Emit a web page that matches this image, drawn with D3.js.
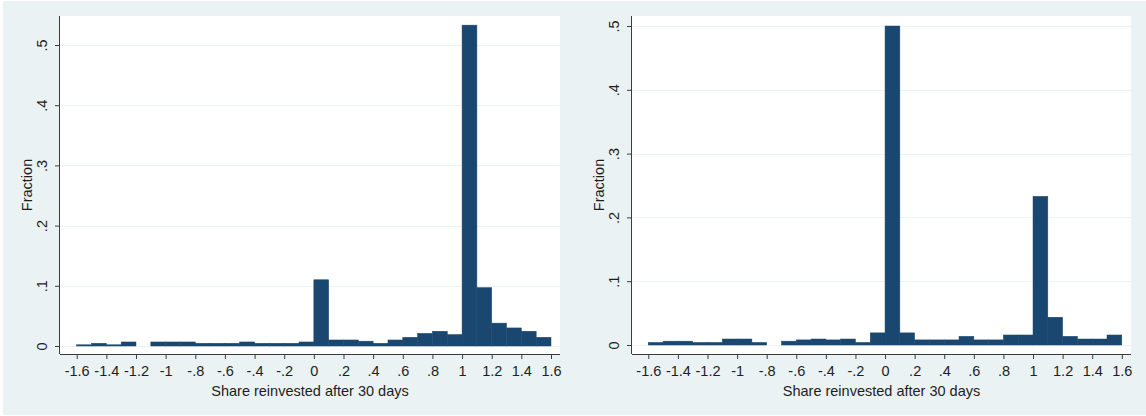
<!DOCTYPE html>
<html>
<head>
<meta charset="utf-8">
<script src="https://cdn.jsdelivr.net/npm/d3@7"></script>
<style>
  body { margin: 0; background: #fff; }
  svg text { font-family: "Liberation Sans", Arial, sans-serif; fill: #1e1e1e; }
</style>
</head>
<body>
<svg id="chart" width="1146" height="416"></svg>
<script>
// histogram bins, width 0.1, from -1.6 to 1.6
const binStarts = d3.range(32).map(i => Math.round((-1.6 + i * 0.1) * 10) / 10);

const leftFractions = [
  0.002, 0.0045, 0.002, 0.0067, 0, 0.0067, 0.0067, 0.0067,
  0.0045, 0.0045, 0.0045, 0.0067, 0.0045, 0.0045, 0.0045, 0.0067,
  0.110, 0.010, 0.010, 0.008, 0.0045, 0.010, 0.0145, 0.021,
  0.0245, 0.019, 0.533, 0.097, 0.038, 0.030, 0.0245, 0.0145
];

const rightFractions = [
  0.004, 0.006, 0.006, 0.004, 0.004, 0.0094, 0.0094, 0.004,
  0, 0.006, 0.008, 0.0094, 0.008, 0.0094, 0.004, 0.019,
  0.500, 0.019, 0.008, 0.008, 0.008, 0.0136, 0.008, 0.008,
  0.0157, 0.0157, 0.233, 0.0435, 0.0136, 0.0094, 0.0094, 0.0157
];

const xTicks = [-1.6, -1.4, -1.2, -1, -0.8, -0.6, -0.4, -0.2, 0, 0.2, 0.4, 0.6, 0.8, 1, 1.2, 1.4, 1.6];
const xTickLabels = ['-1.6', '-1.4', '-1.2', '-1', '-.8', '-.6', '-.4', '-.2', '0', '.2', '.4', '.6', '.8', '1', '1.2', '1.4', '1.6'];
const yTicks = [0, 0.1, 0.2, 0.3, 0.4, 0.5];
const yTickLabels = ['0', '.1', '.2', '.3', '.4', '.5'];

const xTitle = 'Share reinvested after 30 days';
const yTitle = 'Fraction';

const barColor = '#1a476f';
const bgColor = '#eaf2f3';
const fontSize = 14.5;

const svg = d3.select('#chart');

svg.append('rect')
  .attr('x', 3).attr('y', 1)
  .attr('width', 1143).attr('height', 414)
  .attr('fill', bgColor);

function drawPanel(values, box) {
  let x = d3.scaleLinear().domain([-1.6, 1.6]).range([box.xStart, box.xEnd]);
  let y = d3.scaleLinear().domain([0, 0.5]).range([box.yZero, box.yHalf]);

  let g = svg.append('g');

  // plot region
  g.append('rect')
    .attr('x', box.left).attr('y', box.top)
    .attr('width', box.right - box.left).attr('height', box.bottom - box.top)
    .attr('fill', '#fff');

  // grid lines
  g.append('g')
    .selectAll('line')
    .data(yTicks)
    .enter().append('line')
    .attr('x1', box.left).attr('x2', box.right)
    .attr('y1', d => Math.round(y(d)) + 0.5)
    .attr('y2', d => Math.round(y(d)) + 0.5)
    .attr('stroke', bgColor)
    .attr('stroke-width', 1);

  // bars
  g.append('g')
    .selectAll('rect')
    .data(binStarts.map((b, i) => ({ b: b, v: values[i] })).filter(d => d.v > 0))
    .enter().append('rect')
    .attr('x', d => x(d.b))
    .attr('width', d => x(d.b + 0.1) - x(d.b))
    .attr('y', d => y(d.v))
    .attr('height', d => y(0) - y(d.v))
    .attr('fill', barColor)
    .attr('stroke', barColor)
    .attr('stroke-width', 0.5);

  // x axis
  let xAxis = d3.axisBottom(x)
    .tickValues(xTicks)
    .tickSize(5)
    .tickPadding(7)
    .tickFormat((d, i) => xTickLabels[i]);

  let xg = g.append('g')
    .attr('transform', `translate(0, ${box.bottom})`)
    .call(xAxis);
  xg.select('.domain').attr('d', `M${box.left},0.5H${box.right}`);

  // y axis
  let yAxis = d3.axisLeft(y)
    .tickValues(yTicks)
    .tickSize(5)
    .tickFormat((d, i) => yTickLabels[i]);

  let yg = g.append('g')
    .attr('transform', `translate(${box.left}, 0)`)
    .call(yAxis);
  yg.select('.domain').attr('d', `M-0.5,${box.top}V${box.bottom}`);
  yg.selectAll('.tick text')
    .attr('x', 0).attr('dy', 0)
    .attr('transform', `translate(-18, 0) rotate(-90)`)
    .attr('text-anchor', 'middle')
    .attr('dominant-baseline', 'central');

  g.selectAll('.domain, .tick line').attr('stroke', '#3c3c3c');
  g.selectAll('.tick text')
    .attr('font-size', fontSize)
    .attr('font-family', '"Liberation Sans", Arial, sans-serif')
    .attr('fill', '#1e1e1e');

  // titles
  g.append('text')
    .attr('x', (box.left + box.right) / 2)
    .attr('y', 396)
    .attr('text-anchor', 'middle')
    .attr('font-size', fontSize)
    .text(xTitle);

  g.append('text')
    .attr('transform', `translate(${box.left - 33}, 185) rotate(-90)`)
    .attr('text-anchor', 'middle')
    .attr('dominant-baseline', 'central')
    .attr('font-size', fontSize)
    .text(yTitle);
}

drawPanel(leftFractions, {
  left: 60, right: 560, top: 16, bottom: 354,
  xStart: 76.7, xEnd: 551, yZero: 346, yHalf: 45
});

drawPanel(rightFractions, {
  left: 632, right: 1131, top: 16, bottom: 354,
  xStart: 648.3, xEnd: 1121.8, yZero: 345, yHalf: 26
});
</script>
</body>
</html>
